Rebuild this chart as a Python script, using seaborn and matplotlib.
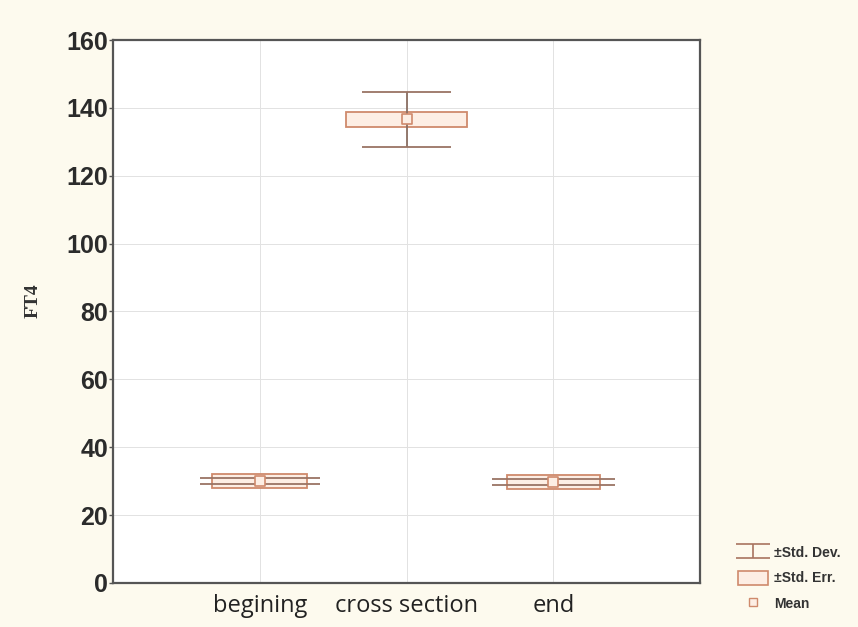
import numpy as np
import matplotlib
matplotlib.use("Agg")
import matplotlib.pyplot as plt
import seaborn as sns
from matplotlib.patches import Patch
from matplotlib.lines import Line2D

# data
groups = ["begining", "cross section", "end"]
means = [30.1, 136.7, 29.8]
std_dev = [0.8, 8.1, 0.8]
std_err = [2.0, 2.2, 2.0]

# per-group drawing widths (category units)
cap_w = [0.82, 0.61, 0.84]
box_w = [0.65, 0.82, 0.63]

line_col = "#a87460"
box_col = "#cf8a6c"
fill_col = "#fdeee4"

sns.set_theme(style="whitegrid")
plt.rcParams["font.family"] = ["Liberation Sans", "DejaVu Sans"]

fig = plt.figure(figsize=(8.58, 6.27), dpi=100, facecolor="#fdfaee")
ax = fig.add_axes([0.1317, 0.0702, 0.6842, 0.866])
ax.set_facecolor("white")

x = np.arange(len(groups))
m = np.array(means)
sd = np.array(std_dev)
se = np.array(std_err)

# std. err. boxes
ax.bar(x, 2 * se, bottom=m - se, width=box_w, color=fill_col,
       edgecolor=box_col, linewidth=1.3, zorder=3)
# std. dev. whiskers
ax.vlines(x, m - sd, m + sd, color="#8a6e62", linewidth=1.3, zorder=4)
for xi, mi, si, w in zip(x, m, sd, cap_w):
    ax.hlines([mi - si, mi + si], xi - w / 2, xi + w / 2,
              color="#9a7464", linewidth=1.3, zorder=4)
# means
sns.scatterplot(x=x, y=m, marker="s", s=60, color=fill_col,
                edgecolor=box_col, linewidth=1.2, zorder=5, ax=ax)

ax.set_xlim(-1, 3)
ax.set_ylim(0, 160)
ax.set_yticks(range(0, 161, 20))
ax.set_xticks(x)
ax.set_xticklabels(groups, fontsize=17, family=["Open Sans", "DejaVu Sans"],
                   color="#222222")
ax.tick_params(axis="y", labelsize=18, labelcolor="#2b2b2b", length=3,
               width=1, color="#555555", direction="out", left=True, pad=0.5)
ax.tick_params(axis="x", length=0, pad=8)
for lab in ax.get_yticklabels():
    lab.set_fontweight("bold")

ax.grid(True, color="#e2e2e2", linewidth=0.7)
for sp in ax.spines.values():
    sp.set_color("#555555")
    sp.set_linewidth(1.6)

ax.set_xlabel("")
ax.set_ylabel("FT4", fontsize=14, fontweight="bold",
              family=["Liberation Serif", "DejaVu Serif"], color="#333333")
ax.yaxis.set_label_coords(-0.122, 0.52)

# legend (proxy errorbar drawn outside the visible x-range)
sd_handle = ax.errorbar([-9], [50], yerr=[1], fmt="none", ecolor=line_col,
                        capsize=12, elinewidth=1.2, capthick=1.2)
handles = [
    sd_handle,
    Patch(facecolor=fill_col, edgecolor=box_col, linewidth=1.2),
    Line2D([], [], marker="s", linestyle="none", markersize=6,
           markerfacecolor=fill_col, markeredgecolor=box_col),
]
labels = ["±Std. Dev.", "±Std. Err.", "Mean"]
leg = fig.legend(handles, labels, loc="lower left",
                 bbox_to_anchor=(0.845, 0.005), frameon=False,
                 prop={"size": 10, "weight": "bold"}, handlelength=2.2,
                 handleheight=1.2, labelspacing=0.8, handletextpad=0.45)
for t in leg.get_texts():
    t.set_color("#333333")

fig.savefig("out.png", dpi=100, facecolor=fig.get_facecolor())
